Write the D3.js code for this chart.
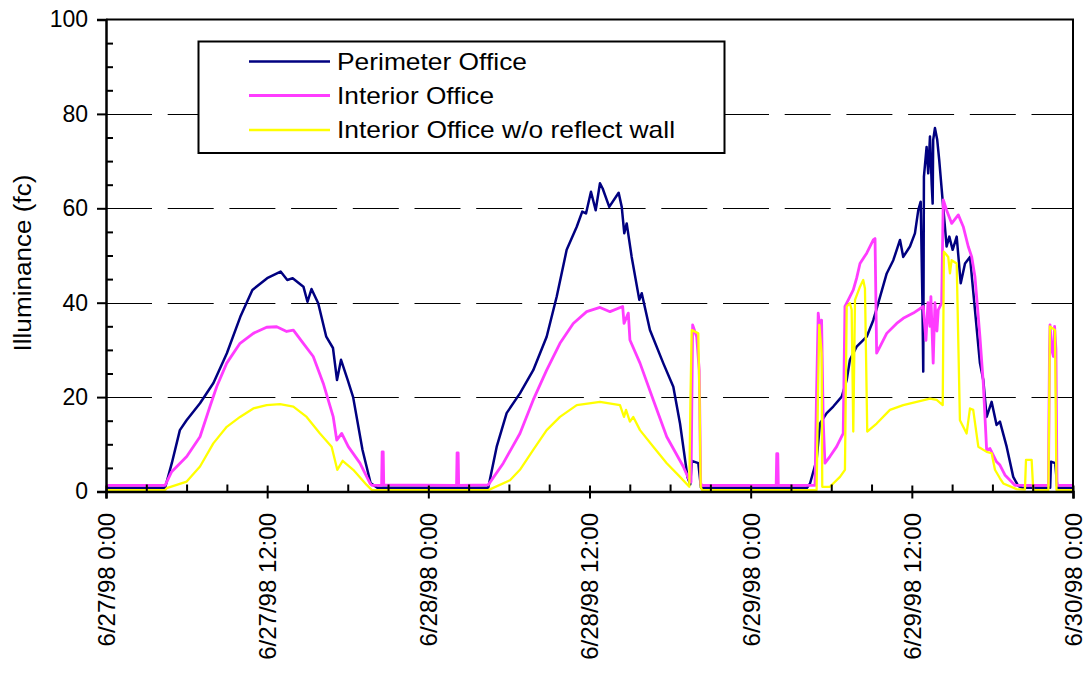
<!DOCTYPE html>
<html>
<head>
<meta charset="utf-8">
<script src="https://cdn.jsdelivr.net/npm/d3@7"></script>
<style>
  html, body { margin: 0; padding: 0; background: #fff; }
  svg { display: block; font-family: "Liberation Sans", Arial, sans-serif; }
</style>
</head>
<body>
<svg id="chart" width="1089" height="676"></svg>
<script>
// ---- data: [hours since 6/27/98 0:00, illuminance (fc)] ----
const perimeterOffice = [
  [0,0.8],[4.4,0.8],[4.9,6],[5.5,13],[6.0,15.1],[7.0,18.7],[8.0,23],[9.0,29.3],[10.0,37],[10.9,42.7],
  [12.0,45.2],[13.0,46.6],[13.5,44.8],[13.9,45.2],[14.7,43.4],[15.0,40.2],[15.3,42.9],[15.8,39.9],
  [16.4,32.8],[16.9,30.4],[17.2,23.6],[17.5,27.9],[18.0,23.6],[18.4,20],[19.1,8.8],[19.7,1.8],[20.2,0.8],
  [28.46,0.8],[29.09,9.5],[29.83,16.6],[30.82,20.8],[31.81,25.7],[32.81,32.8],[33.56,41.3],[34.3,51.2],
  [35.05,56.1],[35.46,59.3],[35.74,58.9],[36.11,63.5],[36.46,59.6],[36.78,65.3],[36.98,64.2],[37.47,60.3],
  [38.17,63.3],[38.4,60.3],[38.59,54.7],[38.77,56.8],[39.14,49.7],[39.71,40.6],[39.89,42],[40.5,34.2],
  [41.49,27.2],[42.24,22.2],[42.74,14.4],[43.3,3],[43.5,1.5],[43.62,6.5],[44.1,6],[44.3,0.8],
  [52.2,0.8],[52.42,1.7],[52.91,6.7],[53.16,14.4],[53.66,16.6],[54.15,18],[54.78,20.1],[55.15,23.6],
  [55.39,27.9],[55.89,30.7],[56.64,32.8],[57.13,36.3],[57.5,39.9],[58.13,46.2],[58.62,49],[59.12,53.3],
  [59.36,49.7],[59.86,51.9],[60.23,54.7],[60.48,59.6],[60.66,61.4],[60.79,40],[60.85,25.4],[60.9,66.7],
  [61.1,73],[61.22,67.4],[61.35,75.2],[61.48,65],[61.55,61],[61.59,74.5],[61.72,77],[61.89,74.5],
  [62.04,70.2],[62.29,61.8],[62.59,51.9],[62.79,54],[63.04,51.2],[63.34,54],[63.64,44.1],[63.96,48.3],
  [64.33,49.7],[64.7,38.5],[65.07,27.2],[65.32,23.6],[65.57,15.8],[65.94,19],[66.31,14.1],[66.56,14.8],
  [67.06,9.5],[67.55,3.1],[67.92,1.2],[68.2,0.8],[70.3,0.8],[70.36,6.3],[70.68,6],[70.83,0.8],[72,0.8]
];
const interiorOffice = [
  [0,1.3],[4.4,1.3],[4.89,4.2],[6.01,7.4],[7.0,11.6],[7.74,18],[8.24,22.2],[8.99,27.2],[9.98,31.4],
  [10.97,33.5],[11.96,34.8],[12.71,34.9],[13.45,33.9],[13.95,34.2],[14.69,31.4],[15.43,28.6],[16.18,22.9],
  [16.92,15.8],[17.18,10.9],[17.55,12.3],[18.04,9.5],[18.91,6],[19.66,1.7],[19.8,1.3],
  [20.52,1.3],[20.56,8.4],[20.64,8.4],[20.68,1.4],[26.1,1.3],[26.14,8.2],[26.22,8.2],[26.26,1.3],
  [28.46,1.4],[29.58,6],[30.82,12.3],[31.81,19.4],[32.81,25.7],[33.8,31.4],[34.79,35.6],[35.79,38.1],
  [36.78,39],[37.53,38.1],[38.47,39.2],[38.57,35.6],[38.89,37.8],[39.01,32.1],[39.76,27.2],[40.75,19.4],
  [41.75,11.6],[42.98,5.3],[43.43,2.4],[43.56,2],[43.68,35.3],[43.98,32.8],[44.17,25.7],[44.28,1.7],
  [44.38,1.3],[49.9,1.3],[49.94,8],[50.02,8],[50.06,1.3],
  [52.79,1.3],[52.9,20],[53.03,37.8],[53.16,34.2],[53.28,36.3],[53.4,15.1],[53.53,6],[53.9,7.4],
  [54.4,9.5],[54.89,12.3],[55.02,39.2],[55.27,40.6],[55.64,42.7],[55.89,45.2],[56.14,48.3],[56.64,50.5],
  [57.13,53.3],[57.26,53.6],[57.38,29.3],[57.63,30.7],[58.13,33.5],[58.87,35.6],[59.36,36.7],[60.11,37.8],
  [60.85,39.2],[61.05,32],[61.2,40],[61.35,35],[61.42,41.3],[61.59,27.2],[61.72,40],[61.87,34],
  [61.97,38.5],[62.22,39.9],[62.34,61.8],[62.59,59.6],[62.97,56.8],[63.46,58.6],[63.83,56.1],[64.2,51.9],
  [64.46,49.7],[64.7,45.5],[65.07,32.8],[65.32,22.9],[65.57,8.8],[65.82,9.1],[66.31,6.3],[66.56,5.6],
  [66.93,3.5],[67.55,1.7],[67.68,1.3],[70.17,1.3],[70.25,30],[70.29,35.3],[70.42,30],[70.54,28.6],
  [70.63,35],[70.73,30],[70.81,1.3],[72,1.3]
];
const interiorNoReflect = [
  [0,0.3],[4.4,0.3],[4.52,0.7],[6.01,2.1],[7.0,5.3],[7.99,10.2],[8.99,13.7],[9.98,15.8],[10.97,17.6],
  [11.96,18.3],[12.96,18.5],[13.95,18],[14.94,15.8],[15.93,12.3],[16.8,9.5],[17.22,4.6],[17.62,6.5],
  [18.41,4.6],[19.41,1.4],[19.8,0.3],
  [28.46,0.3],[30.08,2.4],[30.82,4.6],[31.81,8.8],[32.81,13],[33.8,15.8],[35.05,18.3],[36.78,19],
  [38.27,18.3],[38.57,15.8],[38.72,17.3],[39.01,14.8],[39.26,15.8],[39.76,13],[40.75,9.5],[41.75,6],
  [42.74,3.1],[43.43,1],[43.52,20],[43.61,34.2],[44.1,33.5],[44.19,20],[44.28,1],[44.38,0.3],
  [52.91,0.3],[53.01,20],[53.11,35.3],[53.28,29.3],[53.33,1],[53.9,1],[54.65,3.1],[55.02,4.6],
  [55.15,39.2],[55.39,39.9],[55.52,38.5],[55.64,12.7],[55.77,40.6],[56.14,43.4],[56.38,44.8],[56.51,43],
  [56.68,12.7],[57.38,14.4],[58.37,17.3],[59.36,18.3],[60.36,19],[61.35,19.7],[61.85,19.4],[62.3,18.3],
  [62.39,50.8],[62.71,49.7],[62.84,46.2],[62.96,49],[63.34,48.3],[63.58,15.1],[64.08,12.3],[64.33,17.6],
  [64.57,17.3],[64.95,9.5],[65.57,8.4],[65.94,8.1],[66.19,4.6],[66.56,2.8],[66.81,1.7],[67.8,0.5],
  [68.42,0.4],[68.5,6.7],[68.92,6.7],[69.04,0.3],[70.17,0.3],[70.28,35],[70.66,34.2],[70.77,0.3],[72,0.3]
];
const seriesNames = ["Perimeter Office", "Interior Office", "Interior Office w/o reflect wall"];
const seriesColors = ["#000080", "#ff3cff", "#ffff00"];
const seriesWidths = [2.5, 2.8, 2.3];
const yTicks = [0, 20, 40, 60, 80, 100];
const gridValues = [20, 40, 60, 80];
const xTickLabels = ["6/27/98 0:00", "6/27/98 12:00", "6/28/98 0:00", "6/28/98 12:00", "6/29/98 0:00", "6/29/98 12:00", "6/30/98 0:00"];

// ---- layout ----
const svg = d3.select("#chart");
const plotL = 106, plotR = 1073, plotT = 19.5, plotB = 491.5;
const t0 = new Date(1998, 5, 27, 0, 0);
const t1 = new Date(1998, 5, 30, 0, 0);
const toDate = h => new Date(t0.getTime() + h * 3600e3);

const x = d3.scaleTime().domain([t0, t1]).range([plotL, plotR]);
const y = d3.scaleLinear().domain([0, 100]).range([plotB, plotT]);

// gridlines
svg.append("g").selectAll("line").data(gridValues).join("line")
  .attr("x1", plotL).attr("x2", plotR)
  .attr("y1", d => Math.round(y(d)) + 0.5).attr("y2", d => Math.round(y(d)) + 0.5)
  .attr("stroke", "#000").attr("stroke-width", 1)
  .attr("stroke-dasharray", "46,15.7");

// lines
const line = d3.line().x(d => x(toDate(d[0]))).y(d => y(d[1]));
const allSeries = [perimeterOffice, interiorOffice, interiorNoReflect];
svg.append("g").selectAll("path").data(allSeries).join("path")
  .attr("d", line).attr("fill", "none")
  .attr("stroke", (d, i) => seriesColors[i])
  .attr("stroke-width", (d, i) => seriesWidths[i])
  .attr("stroke-linejoin", "round");

// frame (top & right)
svg.append("path")
  .attr("d", `M${plotL},${plotT}H${plotR}V${plotB}`)
  .attr("fill", "none").attr("stroke", "#000").attr("stroke-width", 2);

// y axis
const yAxisMajor = d3.axisLeft(y).tickValues(yTicks).tickSize(9).tickPadding(9).tickFormat(d3.format("d"));
const gY = svg.append("g").attr("transform", `translate(${plotL},0)`).call(yAxisMajor);
gY.select(".domain").attr("stroke-width", 2.5);
gY.selectAll(".tick line").attr("stroke-width", 2);
gY.selectAll(".tick text").attr("font-size", 23).attr("font-family", "Liberation Sans, Arial, sans-serif").attr("fill", "#000");
const yAxisMinor = d3.axisRight(y).tickValues(d3.range(5, 100, 5).filter(v => v % 20 !== 0)).tickSize(7).tickFormat("");
const gYm = svg.append("g").attr("transform", `translate(${plotL},0)`).call(yAxisMinor);
gYm.select(".domain").remove();
gYm.selectAll(".tick line").attr("stroke-width", 2);

// x axis
const majorTimes = d3.range(0, 73, 12).map(toDate);
const minorTimes = d3.range(3, 72, 3).filter(h => h % 12 !== 0).map(toDate);
const xMinor = d3.axisTop(x).tickValues(minorTimes).tickSize(7).tickFormat("");
const gXm = svg.append("g").attr("transform", `translate(0,${plotB})`).call(xMinor);
gXm.select(".domain").remove();
gXm.selectAll(".tick line").attr("stroke-width", 2);
const xMajor = d3.axisBottom(x).tickValues(majorTimes).tickSize(7).tickFormat((d, i) => xTickLabels[i]);
const gX = svg.append("g").attr("transform", `translate(0,${plotB})`).call(xMajor);
gX.select(".domain").attr("stroke-width", 2.5);
gX.selectAll(".tick line").attr("y1", -6).attr("stroke-width", 2);
gX.selectAll(".tick text")
  .attr("font-size", 24).attr("font-family", "Liberation Sans, Arial, sans-serif").attr("fill", "#000")
  .attr("text-anchor", "end").attr("transform", "translate(0,21.5) rotate(-90)")
  .attr("x", 0).attr("y", 0).attr("dy", "0.35em");

// y title
svg.append("text")
  .attr("transform", "translate(23,263) rotate(-90)")
  .attr("text-anchor", "middle").attr("dy", "0.35em")
  .attr("font-size", 23).attr("textLength", 177).attr("lengthAdjust", "spacingAndGlyphs")
  .text("Illuminance (fc)");

// legend
const lg = svg.append("g");
lg.append("rect").attr("x", 198.5).attr("y", 41.5).attr("width", 526).attr("height", 111.5)
  .attr("fill", "#fff").attr("stroke", "#000").attr("stroke-width", 2);
const legendRowsY = [61.5, 95.5, 130];
const legendTextLen = [190, 157, 338];
seriesNames.forEach((name, i) => {
  lg.append("line").attr("x1", 249).attr("x2", 330).attr("y1", legendRowsY[i]).attr("y2", legendRowsY[i])
    .attr("stroke", seriesColors[i]).attr("stroke-width", seriesWidths[i]);
  lg.append("text").attr("x", 337).attr("y", legendRowsY[i]).attr("dy", "0.35em")
    .attr("font-size", 24).attr("textLength", legendTextLen[i]).attr("lengthAdjust", "spacingAndGlyphs")
    .text(name);
});
</script>
</body>
</html>
